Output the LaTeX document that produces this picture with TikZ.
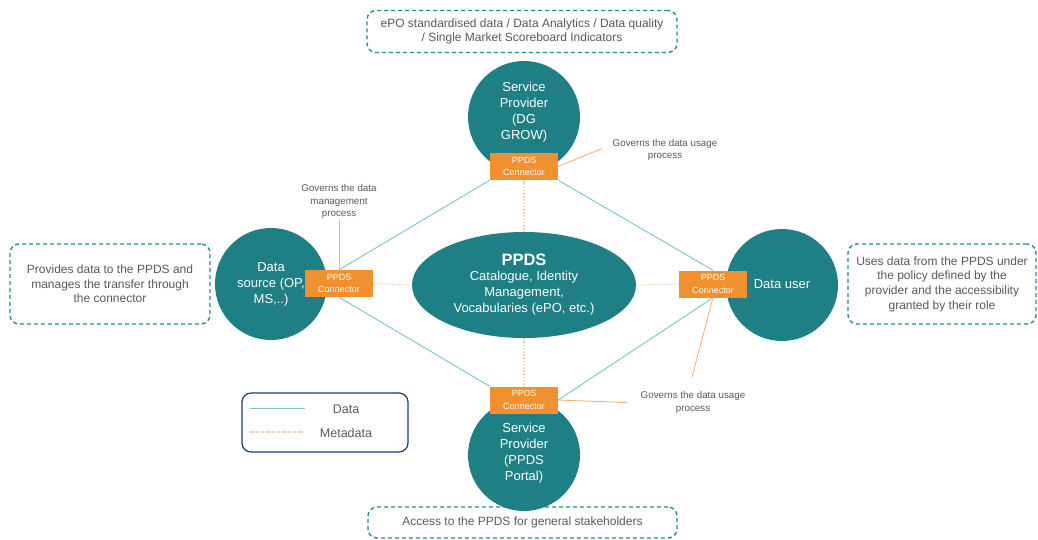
\documentclass[tikz,border=0pt]{standalone}
\usepackage{fontspec}
\setmainfont{Liberation Sans}
\usetikzlibrary{shapes.geometric}

\definecolor{tealfill}{HTML}{1E8084}
\definecolor{connorange}{HTML}{F0902E}
\definecolor{dataline}{HTML}{7CC4C6}
\definecolor{metaline}{HTML}{F9CCA6}
\definecolor{annotline}{HTML}{F6B27A}
\definecolor{notedash}{HTML}{2A8A8C}
\definecolor{legendedge}{HTML}{1F3B73}
\definecolor{labelgray}{HTML}{595959}

\begin{document}
\begin{tikzpicture}[x=1pt,y=-1pt,
  actor/.style={circle,fill=tealfill,minimum size=112pt,inner sep=0pt},
  actortext/.style={text=white,align=center,font=\fontsize{13}{16}\selectfont,inner sep=0pt},
  hub/.style={ellipse,fill=tealfill,minimum width=224pt,minimum height=106pt,inner sep=0pt,
    text=white,align=center,font=\fontsize{13}{16}\selectfont},
  conn/.style={rectangle,fill=connorange,minimum width=68pt,minimum height=27pt,inner sep=0pt,
    text=white,align=center,font=\fontsize{9}{12.5}\selectfont},
  note/.style={rectangle,draw=notedash,line width=1.4pt,dash pattern=on 4pt off 3pt,
    rounded corners=9pt,inner sep=0pt,text=labelgray,align=center,font=\fontsize{12}{14.6}\selectfont},
  datalink/.style={draw=dataline,line width=0.9pt},
  metalink/.style={draw=metaline,line width=1.1pt,dash pattern=on 1.5pt off 1.7pt},
  annot/.style={draw=annotline,line width=0.9pt},
  smalllabel/.style={text=labelgray,align=center,font=\fontsize{9.8}{12.5}\selectfont,inner sep=0pt},
  legendtext/.style={text=labelgray,font=\fontsize{12.5}{15}\selectfont,inner sep=0pt}
]
\useasboundingbox (0,0) rectangle (1038,539);

% descriptive notes around the space
\node[note,minimum width=310pt,minimum height=42pt] (noteT) at (522,31.5)
  {ePO standardised data / Data Analytics / Data quality\\/ Single Market Scoreboard Indicators};
\node[note,minimum width=200pt,minimum height=80pt] (noteL) at (110,284)
  {Provides data to the PPDS and\\manages the transfer through\\the connector};
\node[note,minimum width=188pt,minimum height=80pt] (noteR) at (942,284)
  {Uses data from the PPDS under\\the policy defined by the\\provider and the accessibility\\granted by their role};
\node[note,minimum width=309pt,minimum height=31pt] (noteB) at (522.5,522.5)
  {Access to the PPDS for general stakeholders};

% participants
\node[actor] (spT) at (524,117) {};
\node[actortext] (spTtext) at (524,112) {Service\\Provider\\(DG\\GROW)};
\node[actor] (src) at (271,284) {};
\node[actortext] (srctext) at (271,284) {Data\\source (OP,\\MS,..)};
\node[actor] (usr) at (782,285) {};
\node[actortext] (usrtext) at (782,284) {Data user};
\node[actor] (spB) at (524,455) {};
\node[actortext] (spBtext) at (524,453) {Service\\Provider\\(PPDS\\Portal)};

% central data space
\node[hub] (ppds) at (524,285)
  {{\fontsize{16.5}{18}\selectfont\bfseries PPDS}\\[-1pt]Catalogue, Identity\\Management,\\Vocabularies (ePO, etc.)};

% connectors
\node[conn] (cT) at (524,166.5) {PPDS\\Connector};
\node[conn] (cL) at (339,283.5) {PPDS\\Connector};
\node[conn] (cR) at (713,284) {PPDS\\Connector};
\node[conn] (cB) at (524,400) {PPDS\\Connector};

% data flows between connectors
\draw[datalink] (cT.south west) -- (cL.north);
\draw[datalink] (cT.south east) -- (cR.north);
\draw[datalink] (cL.south) -- (cB.north west);
\draw[datalink] (cB.east) -- (cR.south);

% metadata exchange with the central space
\draw[metalink] (cT.south) -- (ppds.north);
\draw[metalink] (ppds.south) -- (cB.north);
\draw[metalink] (cL.east) -- (ppds.west);
\draw[metalink] (ppds.east) -- (cR.west);

% annotations of the connectors
\coordinate (aT) at (602,148.5);
\coordinate (aL) at (339,220);
\coordinate (aR) at (692,377);
\coordinate (aB) at (627,402.5);
\draw[annot] (cT.east) -- (aT);
\draw[annot] (cL.north) -- (aL);
\draw[annot] (cR.south) -- (aR);
\draw[annot] (cB.east) -- (aB);

\node[smalllabel] (govT) at (665,150) {Governs the data usage\\process};
\node[smalllabel] (govL) at (339,201.5) {Governs the data\\management\\process};
\node[smalllabel] (govB) at (693,402.5) {Governs the data usage\\process};

% legend
\node[draw=legendedge,line width=1.2pt,rounded corners=9pt,minimum width=166pt,minimum height=59pt,inner sep=0pt]
  (legend) at (325,422.5) {};
\coordinate (ld1) at (250,408);
\coordinate (ld2) at (305,408);
\coordinate (lm1) at (250,432);
\coordinate (lm2) at (303,432);
\draw[datalink] (ld1) -- (ld2);
\draw[metalink] (lm1) -- (lm2);
\node[legendtext] (legdata) at (346,409) {Data};
\node[legendtext] (legmeta) at (346,433) {Metadata};
\end{tikzpicture}
\end{document}
